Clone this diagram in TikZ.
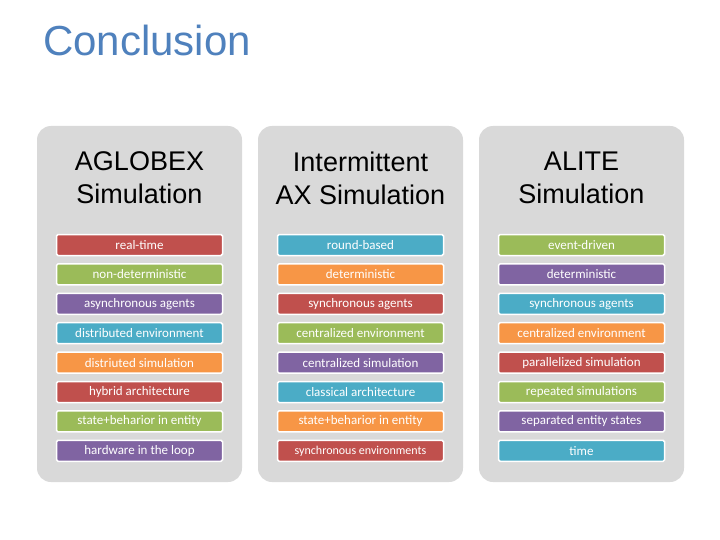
\documentclass[tikz,border=0pt]{standalone}
\usepackage{fontspec}
\setmainfont{Liberation Sans}
\newfontfamily\barfont{Carlito}
\definecolor{cR}{HTML}{C0504D}
\definecolor{cG}{HTML}{9BBB59}
\definecolor{cP}{HTML}{8064A2}
\definecolor{cB}{HTML}{4BACC6}
\definecolor{cO}{HTML}{F79646}
\definecolor{panel}{HTML}{D9D9D9}
\definecolor{ttl}{HTML}{4F81BD}
\begin{document}
\begin{tikzpicture}[x=1pt,y=-1pt,
 panelbox/.style={fill=panel,rounded corners=14pt},
 bar/.style={fill=#1,draw=white,line width=1.5pt,rounded corners=1.5pt,minimum width=166pt,minimum height=21pt,inner sep=0pt,text=white,font=\barfont\fontsize{13}{13}\selectfont},
 head/.style={align=center,font=\fontsize{27}{33}\selectfont,text=black}]
\useasboundingbox (0,0) rectangle (720,540);
\fill[white] (0,0) rectangle (720,540);
\node[anchor=west,text=ttl,font=\fontsize{42}{42}\selectfont,inner sep=0pt] (title) at (43,40) {Conclusion};
\foreach \px/\nm in {37/p1,258/p2,479/p3}{
 \fill[panelbox] (\px,126) rectangle ++(205,356);
}
\node[head] (h1) at (139.5,178) {AGLOBEX\\Simulation};
\node[head] (h2) at (360.5,178) {Intermittent\\AX Simulation};
\node[head] (h3) at (581.5,178) {ALITE\\Simulation};
\foreach \i/\c/\t in {0/cR/real-time,1/cG/non-deterministic,2/cP/asynchronous agents,3/cB/distributed environment,4/cO/distriuted simulation,5/cR/hybrid architecture,6/cG/state+beharior in entity,7/cP/hardware in the loop}
 \node[bar=\c] (a\i) at (139.5,245+29.4*\i) {\t};
\foreach \i/\c/\t in {0/cB/round-based,1/cO/deterministic,2/cR/synchronous agents,3/cG/centralized environment,4/cP/centralized simulation,5/cB/classical architecture,6/cO/state+beharior in entity,7/cR/{\fontsize{12}{12}\selectfont synchronous environments}}
 \node[bar=\c] (b\i) at (360.5,245+29.4*\i) {\t};
\foreach \i/\c/\t in {0/cG/event-driven,1/cP/deterministic,2/cB/synchronous agents,3/cO/centralized environment,4/cR/parallelized simulation,5/cG/repeated simulations,6/cP/separated entity states,7/cB/time/space heterogenity}
 \node[bar=\c] (c\i) at (581.5,245+29.4*\i) {\t};
\end{tikzpicture}
\end{document}
